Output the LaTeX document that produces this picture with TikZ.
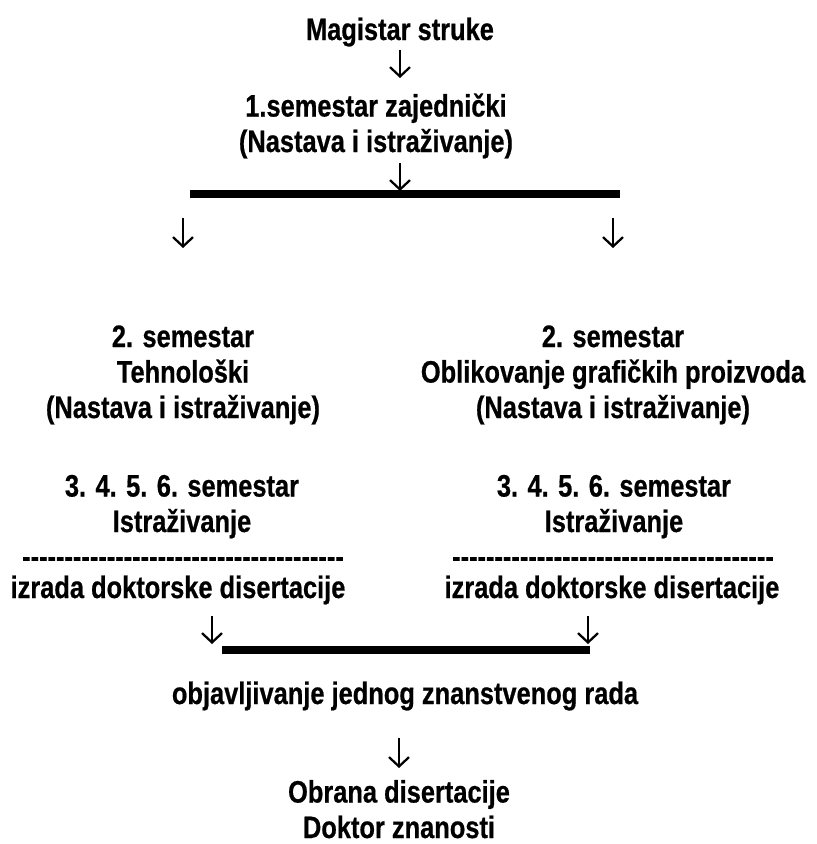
\documentclass[tikz,border=0pt]{standalone}
\usepackage{fontspec}
\setmainfont{Liberation Sans}[FakeStretch=0.82, Ligatures=TeXOff,
  BoldFeatures={FakeBold=0.6}]
\usetikzlibrary{arrows.meta}

\begin{document}
\begin{tikzpicture}[
    x=0.75pt, y=-0.75pt,
    txt/.style={anchor=base, align=center, inner sep=0pt,
                font=\fontsize{23.25pt}{26.6pt}\selectfont\bfseries},
    bar/.style={line width=6pt},
    down/.style={line width=1.7pt, -{Straight Barb[length=7pt, width=15pt]}}
  ]
  \useasboundingbox (0,0) rectangle (817,844);

  % text blocks (anchored at the baseline)
  \node[txt] (mag) at (400,40) {Magistar struke};
  \node[txt] (sem1) at (376,152) {1.semestar zajednički\\(Nastava i istraživanje)};
  \node[txt] (teh) at (183,418) {2. semestar\\Tehnološki\\(Nastava i istraživanje)};
  \node[txt] (obl) at (613,418) {2. semestar\\Oblikovanje grafičkih proizvoda\\(Nastava i istraživanje)};
  \node[txt] (istL) at (182,532) {3. 4. 5. 6. semestar\\Istraživanje};
  \node[txt] (istR) at (614,532) {3. 4. 5. 6. semestar\\Istraživanje};
  \node[txt] (dashL) at (183,567) {--------------------------------------};
  \node[txt] (dashR) at (613,567) {--------------------------------------};
  \node[txt] (izL) at (178,598) {izrada doktorske disertacije};
  \node[txt] (izR) at (612,598) {izrada doktorske disertacije};
  \node[txt] (rad) at (405,704) {objavljivanje jednog znanstvenog rada};
  \node[txt] (dr) at (399,838) {Obrana disertacije\\Doktor znanosti};

  % bars
  \coordinate (b1w) at (190,194);
  \coordinate (b1e) at (620,194);
  \coordinate (b2w) at (222,650);
  \coordinate (b2e) at (590,650);
  \draw[bar] (b1w) -- (b1e);
  \draw[bar] (b2w) -- (b2e);

  % arrow ends
  \coordinate (a1) at (400,50);   \coordinate (a1t) at (400,78);
  \coordinate (a2) at (400,163);  \coordinate (a2t) at (400,191);
  \coordinate (a3) at (183,218);  \coordinate (a3t) at (183,248);
  \coordinate (a4) at (613,218);  \coordinate (a4t) at (613,248);
  \coordinate (a5) at (212,616);  \coordinate (a5t) at (212,644);
  \coordinate (a6) at (588,616);  \coordinate (a6t) at (588,644);
  \coordinate (a7) at (399,738);  \coordinate (a7t) at (399,768);

  \foreach \a in {a1,a2,a3,a4,a5,a6,a7}
    \draw[down] (\a) -- (\a t);
\end{tikzpicture}
\end{document}
